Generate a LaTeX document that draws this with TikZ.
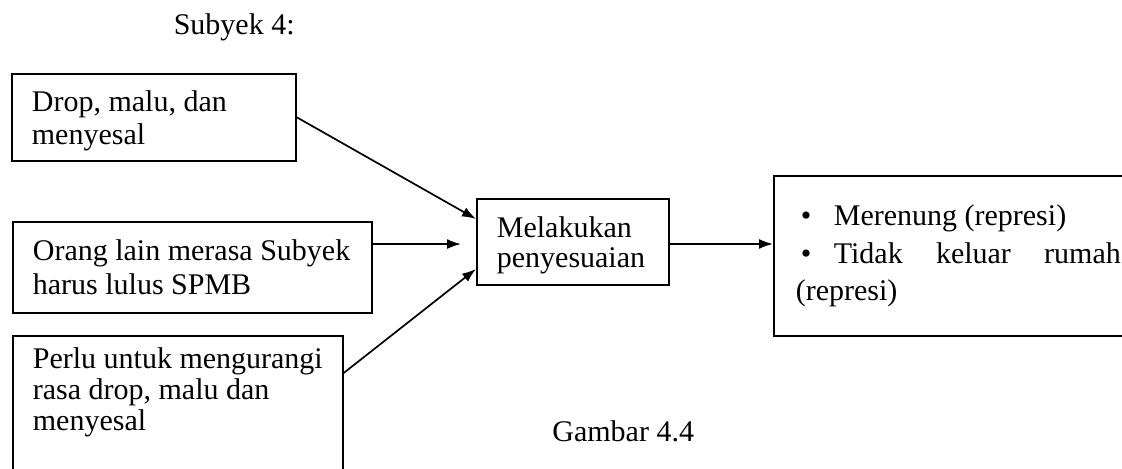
\documentclass[tikz,border=0pt]{standalone}
\usepackage{fontspec}
\setmainfont{Liberation Serif}
\usetikzlibrary{positioning,arrows.meta}

\begin{document}
\begin{tikzpicture}[x=0.5pt,y=-0.5pt,
                    every node/.append style = {font=\fontsize{15pt}{16.5pt}\selectfont},
                    judul/.style = {inner sep=0pt},
                    kotak/.style = {draw, line width=0.85pt, inner xsep=10pt,
                                    align=flush left, anchor=north west},
                    panah/.style = {-{Latex[length=7pt,width=5pt]}, line width=0.85pt}]
                \useasboundingbox (0,0) rectangle (1122,469);
                \clip (0,0) rectangle (1122,469);
                \node[judul, anchor=base east] (nsubyek) at (295,35) {Subyek 4:};
                \node[kotak, text width=122pt, inner ysep=8.25pt, text depth=16.5pt] (ndrop) at (11,73)
                    {Drop, malu, dan\\menyesal};
                \node[kotak, text width=159.5pt, inner ysep=9pt, text depth=17pt,
                      font=\fontsize{15pt}{17pt}\selectfont] (norang) at (12,221)
                    {\mbox{Orang lain merasa Subyek}\\harus lulus SPMB};
                \node[kotak, text width=145pt, inner ysep=5.75pt,
                      font=\fontsize{15pt}{15.5pt}\selectfont] (nperlu) at (12,335)
                    {\mbox{Perlu untuk mengurangi}\\rasa drop, malu dan\\menyesal\\\strut};
                \node[kotak, text width=76pt, inner ysep=8.75pt, text depth=15pt,
                      font=\fontsize{15pt}{15pt}\selectfont] (nsesuai) at (476,198)
                    {Melakukan\\penyesuaian};
                \node[kotak, text width=170pt, inner xsep=11pt, minimum height=80pt,
                      font=\fontsize{15pt}{18.75pt}\selectfont] (nrenung) at (773,175)
                    {\makebox[19pt][l]{\hspace{2.5pt}\textbullet}Merenung (represi)\\
                     \makebox[19pt][l]{\hspace{2.5pt}\textbullet}\makebox[143.5pt][l]{Tidak\hfill keluar\hfill rumah}\\
                     (represi)};
                \node[judul, anchor=base west] (ngambar) at (552,441) {Gambar 4.4};
                \draw[panah] (ndrop.east) -- ([yshift=11.4pt]nsesuai.west);
                \coordinate (corang) at ([yshift=11.6pt]norang.east);
                \draw[panah, shorten >=7.5pt] (corang) -- (corang -| nsesuai.west);
                \draw[panah] ([yshift=-19pt]nperlu.north east) -- ([yshift=-13.6pt]nsesuai.west);
                \coordinate (csesuai) at ([yshift=-1.1pt]nsesuai.east);
                \draw[panah] (csesuai) -- (csesuai -| nrenung.west);
                \end{tikzpicture}
\end{document}
